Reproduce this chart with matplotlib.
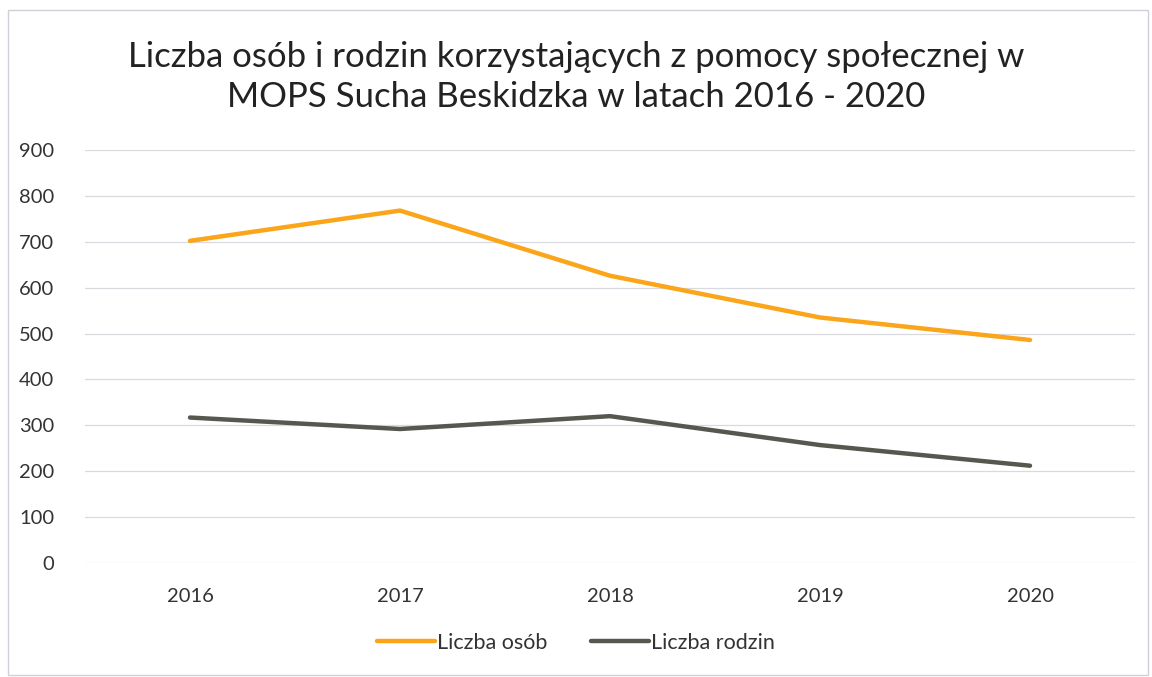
import matplotlib
matplotlib.use("Agg")
import matplotlib.pyplot as plt
from matplotlib.patches import Rectangle

years = ["2016", "2017", "2018", "2019", "2020"]
osob = [702, 768, 626, 535, 486]
rodzin = [317, 292, 320, 257, 212]
yticks = [0, 100, 200, 300, 400, 500, 600, 700, 800, 900]
title = "Liczba osób i rodzin korzystających z pomocy społecznej w\nMOPS Sucha Beskidzka w latach 2016 - 2020"

plt.rcParams['font.family'] = ['Lato', 'DejaVu Sans']

W, H = 1152, 677
fig = plt.figure(figsize=(W/100, H/100), dpi=100)
fig.patch.set_facecolor('white')
# outer chart border
fig.add_artist(Rectangle((8/W, 2/H), (W-12)/W, (H-12)/H, transform=fig.transFigure,
                         fill=False, edgecolor='#d0d0d8', linewidth=1))

left, right, top, bottom = 85, 1135, 150, 563
ax = fig.add_axes([left/W, 1-bottom/H, (right-left)/W, (bottom-top)/H])
x = list(range(len(years)))
ax.plot(x, osob, color='#FBA51A', linewidth=3.2, solid_capstyle='round', label='Liczba osób')
ax.plot(x, rodzin, color='#58574F', linewidth=3.2, solid_capstyle='round', label='Liczba rodzin')
ax.set_xlim(-0.5, len(years)-0.5)
ax.set_ylim(0, 900)
ax.set_yticks(yticks)
ax.set_xticks(x)
ax.set_xticklabels(years)
ax.grid(axis='y', color='#d9d9e0', linewidth=0.9)
ax.set_axisbelow(True)
for s in ax.spines.values():
    s.set_visible(False)
ax.tick_params(axis='both', length=0, labelsize=14.5, colors='#333333')
ax.tick_params(axis='y', pad=22)
ax.tick_params(axis='x', pad=18)

fig.text(0.5, 1-77/H, title, ha='center', va='center', fontsize=25, color='#222222',
         linespacing=1.3)

leg = fig.legend(loc='center', bbox_to_anchor=(0.5, 1-643/H), ncol=2, frameon=False,
                 fontsize=15.5, handlelength=2.7, handletextpad=0.1, columnspacing=2.0)
for t in leg.get_texts():
    t.set_color('#333333')

fig.savefig("out.png", dpi=100)
